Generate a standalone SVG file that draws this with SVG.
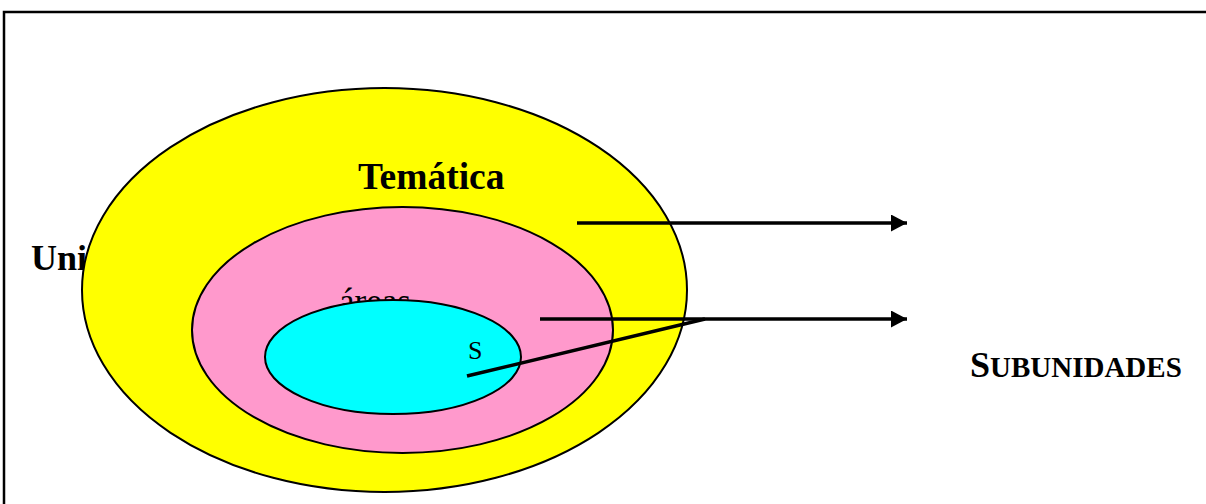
<svg xmlns="http://www.w3.org/2000/svg" width="1206" height="504" viewBox="0 0 1206 504">
  <style>
    .bold { font-family: "Liberation Serif", "Times New Roman", serif; font-weight: bold; fill: #000; }
    .reg { font-family: "Liberation Serif", "Times New Roman", serif; fill: #000; }
    .ell { stroke: #000; stroke-width: 2; }
    .conn { stroke: #000; stroke-width: 3.5; fill: none; }
  </style>
  <defs>
    <marker id="arrow" markerUnits="userSpaceOnUse" markerWidth="18" markerHeight="18" refX="16" refY="8.5" orient="auto">
      <path d="M0,0 L16,8.5 L0,17 Z" fill="#000"/>
    </marker>
  </defs>
  <rect width="1206" height="504" fill="#fff"/>
  <g id="frame">
    <path d="M4,504 L4,12 L1206,12" fill="none" stroke="#000" stroke-width="2.5"/>
  </g>
  <g id="unidades">
    <text class="bold" x="31" y="270" font-size="36">Uni</text>
    <ellipse class="ell" cx="384.5" cy="290" rx="302.5" ry="202" fill="#ffff00"/>
    <text class="bold" x="358" y="189" font-size="37.5">Temática</text>
  </g>
  <g id="areas">
    <ellipse class="ell" cx="402.5" cy="330" rx="210.5" ry="123" fill="#ff99cc"/>
    <text class="reg" x="339" y="313" font-size="35">áreas</text>
  </g>
  <g id="sub">
    <ellipse class="ell" cx="393" cy="357" rx="128" ry="57" fill="#00ffff"/>
    <text class="reg" x="468" y="359" font-size="26">S</text>
  </g>
  <g id="connectors">
    <line class="conn" x1="577" y1="223" x2="907" y2="223" marker-end="url(#arrow)"/>
    <line class="conn" x1="540" y1="319" x2="907" y2="319" marker-end="url(#arrow)"/>
    <line class="conn" x1="467" y1="376" x2="705" y2="319"/>
  </g>
  <g id="subunidades">
    <text class="bold" x="970" y="377" font-size="36">S<tspan font-size="29">UBUNIDADES</tspan></text>
  </g>
</svg>
